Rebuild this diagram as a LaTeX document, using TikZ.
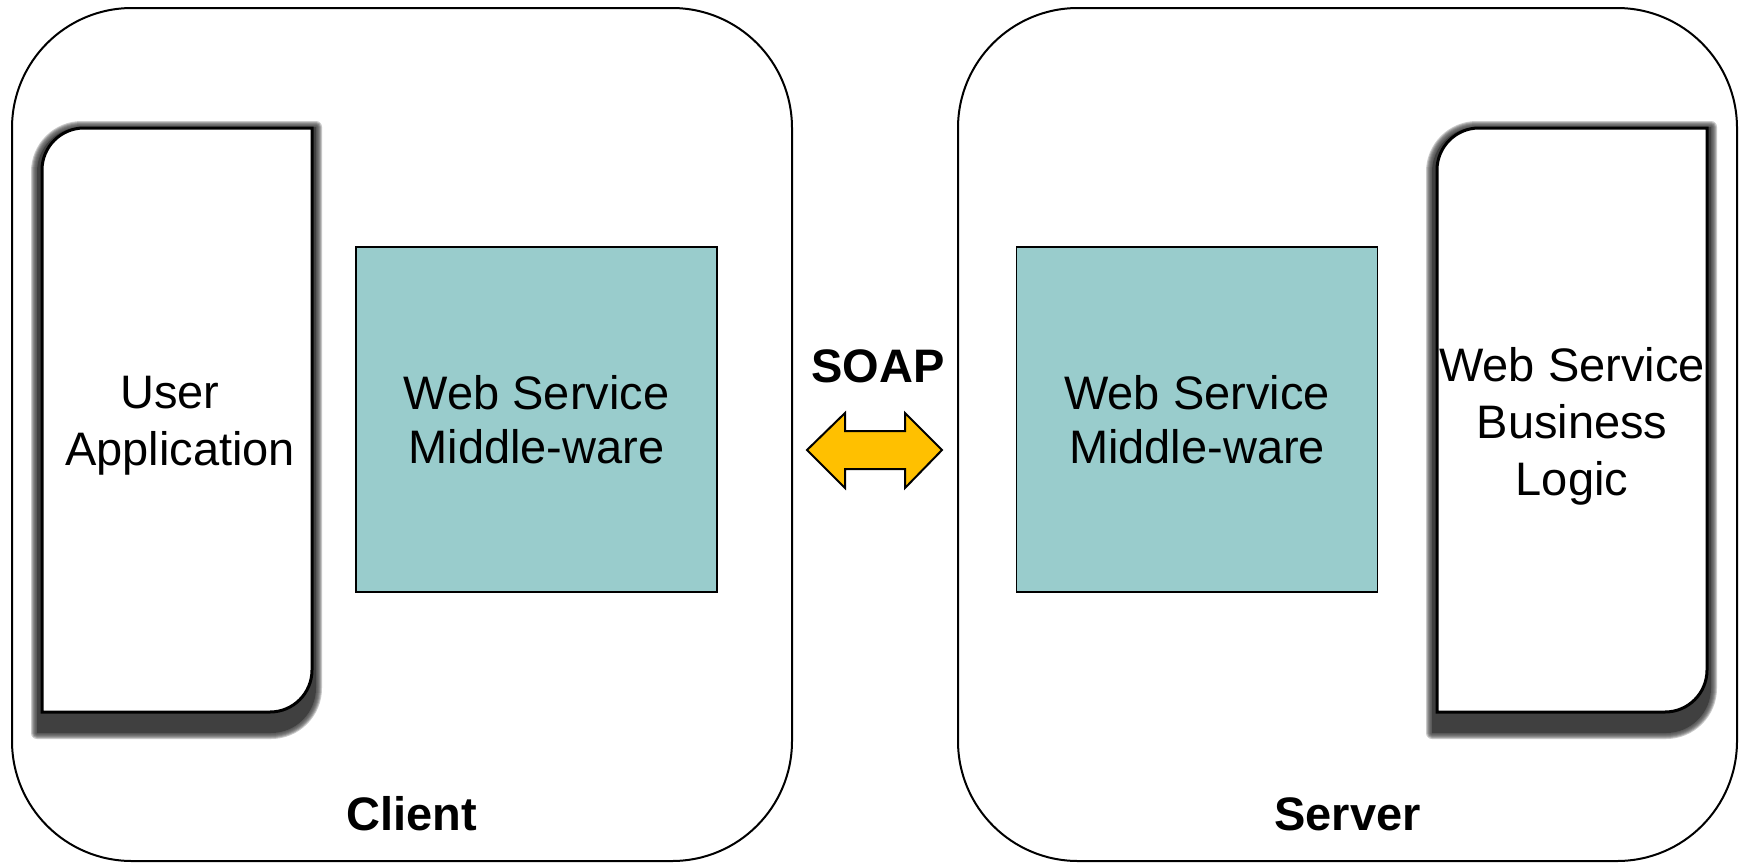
\documentclass[tikz,border=0pt]{standalone}
\usepackage{fontspec}
\setmainfont{Liberation Sans}
\definecolor{mwfill}{RGB}{153,204,204}
\definecolor{soapfill}{RGB}{255,192,0}
\definecolor{shadowgray}{RGB}{64,64,64}
\begin{document}
\begin{tikzpicture}[x=0.5pt,y=-0.5pt,
  container/.style={draw, line width=1pt, rounded corners=60pt, minimum height=426.5pt, inner sep=0pt},
  mw/.style={draw, line width=0.8pt, fill=mwfill, minimum width=180.5pt, minimum height=172.5pt, inner sep=0pt, align=center, font=\fontsize{23.5pt}{27pt}\selectfont},
  boldlbl/.style={font=\fontsize{23.5pt}{28pt}\selectfont\bfseries, anchor=base, inner sep=0pt},
  apptext/.style={align=center, inner sep=0pt, text depth=0pt, font=\fontsize{23.5pt}{28.5pt}\selectfont},
  appbox/.style={draw, line width=1.5pt, fill=white},
  blurring/.style={draw=shadowgray, draw opacity=0.28, line join=round},
  shadowcore/.style={fill=shadowgray},
  soaparrow/.style={draw, line width=1pt, fill=soapfill, line join=miter}
]
\useasboundingbox (0,0) rectangle (1746,863);

% containers
\node[container, minimum width=390pt] (client) at (402,434.5) {};
\node[container, minimum width=389.5pt] (server) at (1347.5,434.5) {};

% shadows (blurred)
\foreach \w in {6,5,4,3,2,1}{
  \draw[blurring, line width=\w pt] (37,733) -- (37,172) .. controls (37,147.1) and (57.1,127) .. (82,127) -- (316,127) -- (316,688) .. controls (316,712.9) and (295.9,733) .. (271,733) -- cycle;
  \draw[blurring, line width=\w pt] (1432,733) -- (1432,172) .. controls (1432,147.1) and (1452.1,127) .. (1477,127) -- (1711,127) -- (1711,688) .. controls (1711,712.9) and (1690.9,733) .. (1666,733) -- cycle;
}
\path[shadowcore] (37,733) -- (37,172) .. controls (37,147.1) and (57.1,127) .. (82,127) -- (316,127) -- (316,688) .. controls (316,712.9) and (295.9,733) .. (271,733) -- cycle;
\path[shadowcore] (1432,733) -- (1432,172) .. controls (1432,147.1) and (1452.1,127) .. (1477,127) -- (1711,127) -- (1711,688) .. controls (1711,712.9) and (1690.9,733) .. (1666,733) -- cycle;

% application boxes
\draw[appbox] (42,712) -- (42,170) .. controls (42,146.8) and (60.8,128) .. (84,128) -- (312,128) -- (312,670) .. controls (312,693.2) and (293.2,712) .. (270,712) -- cycle;
\draw[appbox] (1437,712) -- (1437,170) .. controls (1437,146.8) and (1455.8,128) .. (1479,128) -- (1707,128) -- (1707,670) .. controls (1707,693.2) and (1688.2,712) .. (1665,712) -- cycle;
\node[apptext] (userapp) at (180,421) {User\hspace*{0.43em}\\Application};
\node[apptext] (bizlogic) at (1572,421) {Web Service\\Business\hspace*{0.28em}\\Logic};

% middleware
\node[mw] (cmw) at (536.5,419.5) {Web Service\\Middle-ware};
\node[mw] (smw) at (1197,419.5) {Web Service\\Middle-ware};

% SOAP
\node[boldlbl] (soap) at (878,382) {SOAP};
\draw[soaparrow] (807,450) -- (845,413) -- (845,431) -- (905,431) -- (905,413) -- (942,450) -- (905,488) -- (905,469) -- (845,469) -- (845,488) -- cycle;

% labels
\node[boldlbl] (clientlbl) at (412,830) {Client};
\node[boldlbl] (serverlbl) at (1347.5,830) {Server};
\end{tikzpicture}
\end{document}
